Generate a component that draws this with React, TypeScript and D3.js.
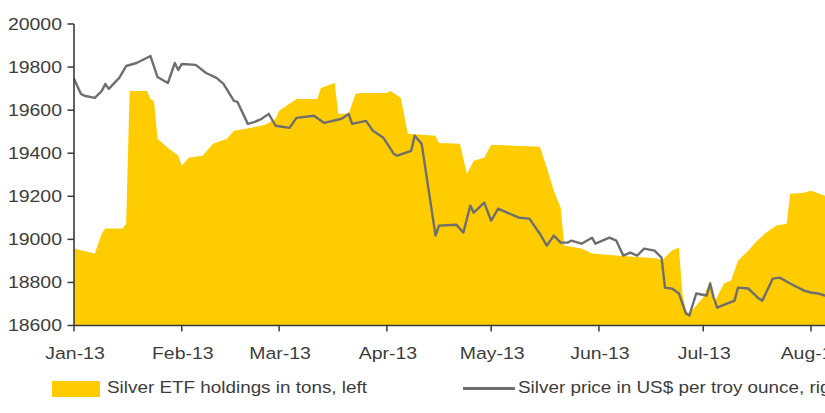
import React from "react";
import * as d3 from "d3";

const etfDates = [
  "2013-01-01","2013-01-07","2013-01-09","2013-01-10","2013-01-15","2013-01-16","2013-01-17","2013-01-22",
  "2013-01-23","2013-01-24","2013-01-25","2013-01-28","2013-01-31","2013-02-01","2013-02-03","2013-02-07",
  "2013-02-10","2013-02-14","2013-02-16","2013-02-21","2013-02-25","2013-02-28","2013-03-01","2013-03-06",
  "2013-03-12","2013-03-13","2013-03-17","2013-03-18","2013-03-21","2013-03-23","2013-03-25","2013-04-01",
  "2013-04-02","2013-04-05","2013-04-07","2013-04-15","2013-04-16","2013-04-22","2013-04-24","2013-04-26",
  "2013-04-29","2013-05-01","2013-05-15","2013-05-17","2013-05-19","2013-05-21","2013-05-22","2013-05-27",
  "2013-05-30","2013-06-06","2013-06-18","2013-06-19","2013-06-22","2013-06-24","2013-06-25","2013-06-26",
  "2013-06-27","2013-07-01","2013-07-03","2013-07-04","2013-07-07","2013-07-09","2013-07-11","2013-07-14",
  "2013-07-16","2013-07-19","2013-07-22","2013-07-25","2013-07-26","2013-07-30","2013-08-01","2013-08-05",
  "2013-08-11"
];
const etfTons = [
  18957,18934,19027,19050,19050,19073,19689,19689,
  19652,19643,19467,19425,19388,19342,19379,19388,
  19444,19467,19504,19518,19532,19560,19597,19652,
  19652,19703,19726,19583,19583,19676,19680,19680,
  19689,19657,19490,19481,19448,19444,19305,19365,
  19379,19439,19430,19332,19226,19147,18971,18957,
  18934,18925,18911,18901,18948,18962,18748,18670,
  18656,18730,18809,18702,18795,18809,18901,18948,
  18985,19031,19064,19073,19212,19217,19226,19203,
  19198
];

const priceDates = [
  "2013-01-01","2013-01-03","2013-01-04","2013-01-07","2013-01-09","2013-01-10","2013-01-11","2013-01-14",
  "2013-01-16","2013-01-19","2013-01-23","2013-01-25","2013-01-28","2013-01-30","2013-01-31","2013-02-01",
  "2013-02-05","2013-02-08","2013-02-11","2013-02-13","2013-02-16","2013-02-17","2013-02-20","2013-02-22",
  "2013-02-24","2013-02-26","2013-02-28","2013-03-04","2013-03-06","2013-03-11","2013-03-14","2013-03-19",
  "2013-03-21","2013-03-22","2013-03-26","2013-03-28","2013-03-31","2013-04-03","2013-04-04","2013-04-08",
  "2013-04-09","2013-04-11","2013-04-15","2013-04-16","2013-04-21","2013-04-23","2013-04-25","2013-04-26",
  "2013-04-29","2013-05-01","2013-05-03","2013-05-09","2013-05-12","2013-05-15","2013-05-17","2013-05-19",
  "2013-05-21","2013-05-23","2013-05-24","2013-05-27","2013-05-30","2013-05-31","2013-06-04","2013-06-06",
  "2013-06-08","2013-06-10","2013-06-12","2013-06-14","2013-06-17","2013-06-19","2013-06-20","2013-06-22",
  "2013-06-24","2013-06-26","2013-06-27","2013-06-29","2013-07-02","2013-07-03","2013-07-04","2013-07-05",
  "2013-07-08","2013-07-10","2013-07-11","2013-07-14","2013-07-17","2013-07-18","2013-07-21","2013-07-23",
  "2013-07-26","2013-07-30","2013-08-01","2013-08-03","2013-08-05","2013-08-09"
];
const priceUsd = [
  31.09,30.29,30.19,30.08,30.45,30.82,30.56,31.14,
  31.77,31.93,32.30,31.19,30.87,31.93,31.56,31.88,
  31.83,31.40,31.14,30.82,29.92,29.87,28.70,28.81,
  28.97,29.23,28.60,28.49,29.02,29.13,28.75,28.97,
  29.23,28.70,28.86,28.33,27.96,27.11,27.01,27.27,
  28.07,27.64,22.77,23.30,23.35,22.93,24.36,23.99,
  24.52,23.56,24.20,23.72,23.67,22.87,22.24,22.77,
  22.40,22.40,22.50,22.34,22.66,22.34,22.66,22.50,
  21.71,21.87,21.71,22.08,21.97,21.60,20.01,19.96,
  19.70,18.64,18.53,19.70,19.59,20.23,19.48,18.95,
  19.17,19.32,20.01,19.96,19.43,19.32,20.49,20.54,
  20.23,19.85,19.75,19.70,19.59,19.64
];

const leftTicks = [18600, 18800, 19000, 19200, 19400, 19600, 19800, 20000];
const monthTicks = ["2013-01-01","2013-02-01","2013-03-01","2013-04-01","2013-05-01","2013-06-01","2013-07-01","2013-08-01"];
const legendLabels = ["Silver ETF holdings in tons, left", "Silver price in US$ per troy ounce, right"];

const W = 825, H = 413;
const parse = d3.utcParse("%Y-%m-%d");
const fmt = d3.utcFormat("%b-%y");

export default function App() {
  const x = d3.scaleUtc().domain([parse("2013-01-01")!, parse("2013-08-01")!]).range([74, 811]);
  const yL = d3.scaleLinear().domain([18600, 20000]).range([325.5, 24]);
  const yR = d3.scaleLinear().domain([18, 34]).range([325.5, 24]);

  const etf = etfDates.map((d, i) => ({ d: parse(d)!, v: etfTons[i] }));
  const price = priceDates.map((d, i) => ({ d: parse(d)!, v: priceUsd[i] }));

  const area = d3.area<{ d: Date; v: number }>()
    .x((p) => x(p.d)).y0(yL(18600)).y1((p) => yL(p.v));
  const line = d3.line<{ d: Date; v: number }>()
    .x((p) => x(p.d)).y((p) => yR(p.v));

  const font = "'Liberation Sans', Arial, sans-serif";
  const txt = "#3d3d3d";
  const axisC = "#3a3a3a";
  const sx = 1.18;
  const fs = 16.5;

  return (
    <svg width={W} height={H} style={{ position: "absolute", left: 0, top: 0, background: "#fff" }}
      fontFamily={font}>
      <rect x={0} y={0} width={W} height={H} fill="#fff" />
      <path d={area(etf) || ""} fill="#FFCC00" />
      <path d={line(price) || ""} fill="none" stroke="#6e6e6e" strokeWidth={2.4} strokeLinejoin="round" />
      {/* left axis */}
      <line x1={74} x2={74} y1={yL(20000)} y2={yL(18600)} stroke={axisC} strokeWidth={1.6} />
      {leftTicks.map((t) => (
        <g key={t}>
          <line x1={67.5} x2={74} y1={yL(t)} y2={yL(t)} stroke={axisC} strokeWidth={1.5} />
          <text transform={`translate(62,${yL(t)}) scale(${sx},1)`} textAnchor="end" dy="0.36em"
            fontSize={fs} fill={txt}>{t}</text>
        </g>
      ))}
      {/* bottom axis */}
      <line x1={74} x2={W + 10} y1={yL(18600)} y2={yL(18600)} stroke={axisC} strokeWidth={1.6} />
      {monthTicks.map((m) => {
        const xx = x(parse(m)!);
        return (
          <g key={m}>
            <line x1={xx} x2={xx} y1={yL(18600)} y2={yL(18600) + 6} stroke={axisC} strokeWidth={1.5} />
            <text transform={`translate(${xx + 1},359) scale(${sx},1)`} textAnchor="middle"
              fontSize={fs} fill={txt}>{fmt(parse(m)!)}</text>
          </g>
        );
      })}
      {/* legend */}
      <rect x={52} y={381} width={48} height={16} fill="#FFCC00" />
      <text transform={`translate(107,393) scale(${sx},1)`} fontSize={16} fill={txt}>{legendLabels[0]}</text>
      <line x1={463} x2={515} y1={388.5} y2={388.5} stroke="#6e6e6e" strokeWidth={3} />
      <text transform={`translate(518,393) scale(${sx},1)`} fontSize={16} fill={txt}>{legendLabels[1]}</text>
    </svg>
  );
}
